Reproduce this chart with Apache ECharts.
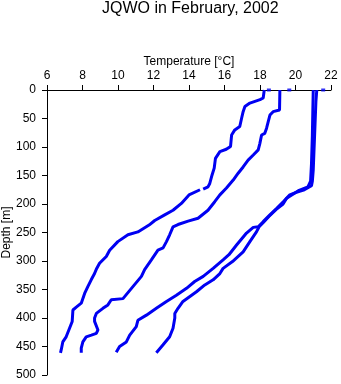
<!DOCTYPE html>
<html>
<head>
<meta charset="utf-8">
<script src="https://cdn.jsdelivr.net/npm/echarts@6/dist/echarts.min.js"></script>
<style>html,body{margin:0;padding:0;background:#fff;}#c{width:341px;height:384px;}</style>
</head>
<body>
<div id="c"></div>
<script>
const xTicks = [6, 8, 10, 12, 14, 16, 18, 20, 22];
const yTicks = [0, 50, 100, 150, 200, 250, 300, 350, 400, 450, 500];

const depthA = [0, 14, 17, 23, 29, 38, 50, 64, 70, 79, 99, 104, 108, 120, 137, 149, 164, 170, 174, 174, 175, 184, 199, 211, 219, 229, 237, 249, 254, 266, 281, 292, 304, 313, 322, 333, 345, 357, 374, 381, 386, 406, 418, 433, 442, 456, 461];
const tempA  = [18.24, 18.18, 18.0, 17.43, 17.15, 17.05, 16.96, 16.86, 16.58, 16.4, 16.34, 16.1, 15.74, 15.49, 15.42, 15.3, 15.17, 15.07, 14.8, null, 14.62, 14.0, 13.57, 13.1, 12.63, 12.07, 11.75, 11.12, 10.56, 9.99, 9.53, 9.34, 8.96, 8.8, 8.68, 8.49, 8.3, 8.12, 7.93, 7.65, 7.46, 7.42, 7.27, 7.08, 6.89, 6.8, 6.76];

const depthB = [0, 35, 38, 44, 56, 67, 76, 79, 94, 105, 114, 123, 135, 146, 158, 165, 172, 184, 196, 211, 225, 230, 236, 240, 254, 266, 277, 281, 298, 315, 327, 345, 366, 368, 377, 383, 392, 400, 406, 421, 427, 430, 433, 442, 453, 461];
const tempB  = [19.12, 19.1, 18.74, 18.56, 18.46, 18.37, 18.27, 18.09, 17.99, 17.9, 17.62, 17.33, 17.05, 16.77, 16.49, 16.3, 16.11, 15.74, 15.45, 15.07, 14.51, 13.95, 13.38, 13.1, 12.91, 12.73, 12.54, 12.25, 11.88, 11.5, 11.32, 10.84, 10.28, 9.62, 9.43, 9.15, 8.78, 8.68, 8.68, 8.87, 8.78, 8.5, 8.21, 8.02, 7.93, 7.93];

const depthC = [0, 20, 60, 100, 140, 160, 168, 175, 180, 184, 196, 208, 219, 231, 240, 241, 251, 272, 289, 298, 313, 327, 336, 348, 360, 371, 383, 395, 404, 415, 430, 442, 450, 460];
const tempC  = [21.2, 21.15, 21.1, 21.05, 21.0, 20.95, 20.9, 20.5, 20.0, 19.68, 19.31, 18.93, 18.56, 18.18, 17.9, 17.62, 17.24, 16.68, 16.25, 15.92, 15.36, 14.8, 14.32, 13.86, 13.29, 12.73, 12.16, 11.6, 11.12, 11.03, 10.66, 10.47, 10.09, 9.9];

const depthD = [0, 30, 80, 130, 160, 170, 176, 182, 190, 200, 210, 222, 232, 240, 249, 266, 284, 301, 313, 322, 333, 342, 354, 371, 383, 392, 400, 418, 433, 447, 461];
const tempD  = [21.0, 20.98, 20.95, 20.9, 20.85, 20.7, 20.2, 19.9, 19.5, 19.3, 18.9, 18.5, 18.2, 17.95, 17.8, 17.43, 17.05, 16.45, 15.92, 15.74, 15.36, 14.89, 14.42, 13.66, 13.38, 13.2, 13.2, 13.1, 12.91, 12.54, 12.16];

const surfaceTemps  = [18.5, 19.65, 21.56];
const surfaceDepths = [0, 0, 0];

function pairs(t, d) {
  return t.map((v, i) => v === null ? [NaN, d[i]] : [v, d[i]]);
}

const BLUE = '#0000f2';
const FONT = 'Liberation Sans, Arial, sans-serif';

const lineSeries = [[tempA, depthA], [tempB, depthB], [tempC, depthC], [tempD, depthD]].map(([t, d]) => ({
  type: 'line',
  data: pairs(t, d),
  symbol: 'none',
  connectNulls: false,
  lineStyle: { color: BLUE, width: 3 },
  z: 3
}));

const chart = echarts.init(document.getElementById('c'), null, { renderer: 'canvas' });
chart.setOption({
  animation: false,
  backgroundColor: '#fff',
  title: {
    text: 'JQWO in February, 2002',
    left: 102,
    top: 1,
    padding: 0,
    textStyle: { fontFamily: FONT, fontSize: 16, fontWeight: 'normal', color: '#000' }
  },
  grid: { left: 47, right: 10, top: 90, bottom: 9, containLabel: false, outerBoundsMode: 'none' },
  xAxis: {
    type: 'value',
    position: 'top',
    min: xTicks[0],
    max: xTicks[xTicks.length - 1],
    interval: 2,
    name: 'Temperature [°C]',
    nameLocation: 'middle',
    nameGap: 22,
    nameMoveOverlap: false,
    nameTextStyle: { fontFamily: FONT, fontSize: 12, color: '#000' },
    axisLine: { show: true, lineStyle: { color: '#000', width: 1 } },
    axisTick: { show: true, length: 5, lineStyle: { color: '#000' } },
    axisLabel: { fontFamily: FONT, fontSize: 12, color: '#000', margin: 8 },
    splitLine: { show: false }
  },
  yAxis: {
    type: 'value',
    inverse: true,
    min: yTicks[0],
    max: yTicks[yTicks.length - 1],
    interval: 50,
    name: 'Depth [m]',
    nameLocation: 'middle',
    nameGap: 34,
    nameRotate: 90,
    nameMoveOverlap: false,
    nameTextStyle: { fontFamily: FONT, fontSize: 12, color: '#000' },
    axisLine: { show: true, lineStyle: { color: '#000', width: 1 } },
    axisTick: { show: true, length: 5, lineStyle: { color: '#000' } },
    axisLabel: { fontFamily: FONT, fontSize: 12, color: '#000', margin: 11 },
    splitLine: { show: false }
  },
  series: lineSeries.concat([{
    type: 'scatter',
    data: pairs(surfaceTemps, surfaceDepths),
    symbol: 'rect',
    symbolSize: [4, 3],
    itemStyle: { color: BLUE },
    z: 4
  }])
});
</script>
</body>
</html>
